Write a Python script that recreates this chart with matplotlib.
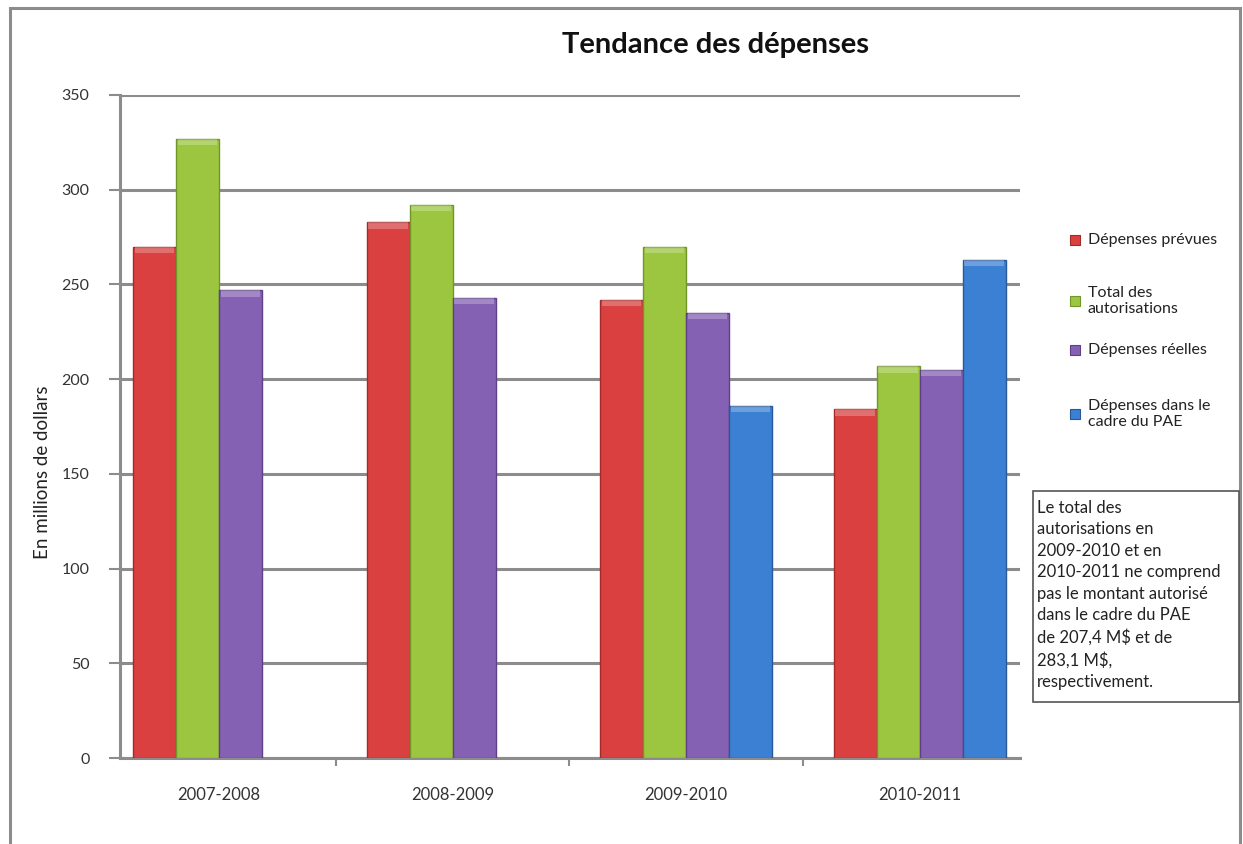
import matplotlib.pyplot as plt
import matplotlib.patches as mpatches
import numpy as np

plt.rcParams['font.family'] = ['Lato', 'DejaVu Sans']

years = ['2007-2008', '2008-2009', '2009-2010', '2010-2011']
prevues = [270, 283, 242, 184]
autorisations = [327, 292, 270, 207]
reelles = [247, 243, 235, 205]
pae = [np.nan, np.nan, 186, 263]

labels = ['Dépenses prévues', 'Total des\nautorisations', 'Dépenses réelles',
          'Dépenses dans le\ncadre du PAE']
colors = ['#d9403f', '#9cc640', '#8561b3', '#3b80d2']
edges = ['#a32a29', '#72952a', '#5e3f88', '#27589a']

note = ('Le total des\nautorisations en\n2009-2010 et en\n2010-2011 ne comprend\n'
        'pas le montant autorisé\ndans le cadre du PAE\nde 207,4 M$ et de\n'
        '283,1 M$,\nrespectivement.')

W, H = 1243, 844
fig = plt.figure(figsize=(W / 100, H / 100), dpi=100)
ax = fig.add_axes([120 / W, 1 - 758 / H, 900 / W, (758 - 95) / H])

# outer frame of the chart area (bottom edge runs off the picture)
fig.patches.append(mpatches.Rectangle((10 / W, -0.05), 1230 / W, 1.05 - 8 / H,
                                      transform=fig.transFigure, fill=False,
                                      edgecolor='#8c8c8c', linewidth=2.2))

x = np.arange(len(years))
bw = 0.184
series = [prevues, autorisations, reelles, pae]
for i, (vals, c, ec) in enumerate(zip(series, colors, edges)):
    pos = x + (i - 1.5) * bw
    ax.bar(pos, vals, width=bw, color=c, edgecolor=ec, linewidth=1.0, zorder=3)
    # light bevel on top of each bar
    for p, v in zip(pos, vals):
        if np.isnan(v):
            continue
        ax.bar(p, 3.5, bottom=v - 3.5, width=bw * 0.92, color='white', alpha=0.25,
               linewidth=0, zorder=4)

ax.set_ylim(0, 350)
ax.set_xlim(-0.424, 3.43)
ax.set_yticks(range(0, 351, 50))
ax.set_xticks(x)
ax.set_xticklabels(years, fontsize=12, color='#333333')
ax.set_xticks(np.arange(0.5, 3.5, 1), minor=True)
ax.tick_params(axis='x', which='major', length=0, pad=21)
ax.tick_params(axis='x', which='minor', length=6, color='#8c8c8c', width=1.5)
ax.tick_params(axis='y', length=8, color='#8c8c8c', width=1.5, labelsize=11.5,
               labelcolor='#333333', pad=14)
ax.yaxis.grid(True, color='#8c8c8c', linewidth=2.2, zorder=0)
ax.set_axisbelow(True)
for s in ['top', 'right']:
    ax.spines[s].set_visible(False)
for s in ['left', 'bottom']:
    ax.spines[s].set_color('#8c8c8c')
    ax.spines[s].set_linewidth(2.2)

fig.text(43 / W, 1 - 472 / H, 'En millions de dollars', rotation=90, ha='center',
         va='center', fontsize=13.5, color='#222222')

fig.text(716 / W, 1 - 45 / H, 'Tendance des dépenses', ha='center', va='center',
         fontsize=21, fontweight='bold', color='#111111')

# legend
leg_y = [240, 301, 350, 414]
for lab, c, ec, yy in zip(labels, colors, edges, leg_y):
    fig.patches.append(mpatches.Rectangle((1070 / W, 1 - (yy + 5) / H), 10 / W, 10 / H,
                                          transform=fig.transFigure, facecolor=c,
                                          edgecolor=ec, linewidth=0.8))
    fig.text(1088 / W, 1 - yy / H, lab, ha='left', va='center', fontsize=11.5,
             color='#222222', linespacing=1.25)

# note box
fig.patches.append(mpatches.Rectangle((1033 / W, 1 - 702 / H), 206 / W, (702 - 491) / H,
                                      transform=fig.transFigure, facecolor='white',
                                      edgecolor='#555555', linewidth=1.2))
fig.text(1037 / W, 1 - 500 / H, note, ha='left', va='top', fontsize=12,
         color='#222222', linespacing=1.42)

fig.savefig('out.png', dpi=100)
